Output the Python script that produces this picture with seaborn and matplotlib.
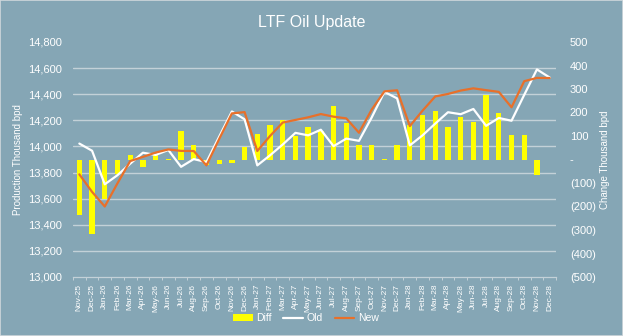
import matplotlib
matplotlib.use("Agg")
import matplotlib.pyplot as plt
import seaborn as sns
import pandas as pd
from matplotlib.ticker import FuncFormatter, FixedLocator
from matplotlib.patches import Patch, Rectangle
from matplotlib.lines import Line2D

months = ["Nov-25", "Dec-25", "Jan-26", "Feb-26", "Mar-26", "Apr-26", "May-26", "Jun-26",
          "Jul-26", "Aug-26", "Sep-26", "Oct-26", "Nov-26", "Dec-26", "Jan-27", "Feb-27",
          "Mar-27", "Apr-27", "May-27", "Jun-27", "Jul-27", "Aug-27", "Sep-27", "Oct-27",
          "Nov-27", "Dec-27", "Jan-28", "Feb-28", "Mar-28", "Apr-28", "May-28", "Jun-28",
          "Jul-28", "Aug-28", "Sep-28", "Oct-28", "Nov-28", "Dec-28"]
old = [14022, 13967, 13710, 13780, 13868, 13952, 13935, 13973, 13844, 13903, 13880, 14075,
       14268, 14208, 13855, 13932, 14015, 14104, 14085, 14128, 14002, 14060, 14043, 14222,
       14418, 14368, 14008, 14085, 14175, 14262, 14247, 14287, 14158, 14218, 14197, 14395,
       14590, 14528]
new = [13786, 13652, 13540, 13718, 13888, 13920, 13953, 13977, 13966, 13965, 13855, 14057,
       14253, 14263, 13965, 14080, 14183, 14203, 14223, 14248, 14228, 14215, 14105, 14282,
       14422, 14430, 14156, 14274, 14383, 14402, 14428, 14445, 14431, 14418, 14300, 14500,
       14525, 14524]
diff = [-236, -315, -170, -62, 20, -32, 18, 4, 122, 62, -25, -18, -15, 55, 110, 148, 168,
        99, 138, 120, 226, 155, 62, 60, 4, 62, 148, 189, 208, 140, 181, 158, 273, 200, 103,
        105, -65, -4]
left_ticks = [13000, 13200, 13400, 13600, 13800, 14000, 14200, 14400, 14600, 14800]
right_ticks = [-500, -400, -300, -200, -100, 0, 100, 200, 300, 400, 500]

BG = "#85A6B5"
GRID = "#C3D1D8"
TXT = "#FFFFFF"
YEL = "#FFFF00"
ORG = "#E8702A"

sns.set_theme(style="white")
plt.rcParams["font.family"] = ["Liberation Sans", "DejaVu Sans"]

df = pd.DataFrame({"idx": list(range(len(months))), "month": months,
                   "old": old, "new": new, "diff": diff})

fig = plt.figure(figsize=(6.23, 3.36), dpi=100, facecolor=BG)
ax = fig.add_axes([73 / 623, 1 - 277 / 336, 483 / 623, 235 / 336])
ax2 = ax.twinx()
ax.set_zorder(ax2.get_zorder() + 1)
ax.patch.set_visible(False)
ax2.patch.set_visible(False)

# bars on right axis
sns.barplot(data=df, x="idx", y="diff", color=YEL, width=0.42, native_scale=True,
            saturation=1, ax=ax2, zorder=2, edgecolor="none", linewidth=0)
# lines on left axis
sns.lineplot(data=df, x="idx", y="old", color="white", linewidth=1.6, ax=ax, zorder=3)
sns.lineplot(data=df, x="idx", y="new", color=ORG, linewidth=1.6, ax=ax, zorder=4)

ax.set_ylim(13000, 14800)
ax2.set_ylim(-500, 500)
ax.set_xlim(-0.5, len(months) - 0.5)

# left axis ticks
ax.yaxis.set_major_locator(FixedLocator(left_ticks))
ax.yaxis.set_major_formatter(FuncFormatter(lambda v, p: f"{v:,.0f}"))
ax.tick_params(axis="y", length=0, pad=8, labelsize=8, labelcolor=TXT)

# right axis ticks
ax2.yaxis.set_major_locator(FixedLocator(right_ticks))
def rfmt(v, p):
    if abs(v) < 1e-9:
        return "-"
    if v < 0:
        return f"({abs(v):,.0f})"
    return f"{v:,.0f}"
ax2.yaxis.set_major_formatter(FuncFormatter(rfmt))
ax2.tick_params(axis="y", length=0, pad=10, labelsize=8, labelcolor=TXT)

# gridlines (left-axis positions) drawn on bar axis so bars sit above them
ymin, ymax = ax.get_ylim()
rmin, rmax = ax2.get_ylim()
grid_pos = [rmin + (t - ymin) / (ymax - ymin) * (rmax - rmin) for t in left_ticks]
ax2.yaxis.set_minor_locator(FixedLocator(grid_pos))
ax2.tick_params(axis="y", which="minor", length=0)
ax2.grid(False)
ax2.grid(True, which="minor", axis="y", color=GRID, linewidth=1.0, zorder=0)
ax2.set_axisbelow(True)
ax.grid(False)

# x axis
ax.xaxis.set_major_locator(FixedLocator(list(range(len(months)))))
ax.set_xticklabels(months)
ax.xaxis.set_minor_locator(FixedLocator([i - 0.5 for i in range(len(months) + 1)]))
ax.tick_params(axis="x", which="major", length=0, pad=5, labelsize=6, labelcolor=TXT,
               labelrotation=90)
ax.tick_params(axis="x", which="minor", length=2.5, width=0.7, color=GRID, bottom=True)

for a in (ax, ax2):
    for s in a.spines.values():
        s.set_visible(False)
ax.spines["bottom"].set_visible(True)
ax.spines["bottom"].set_color(GRID)
ax.spines["bottom"].set_linewidth(0.9)

ax.set_xlabel("")
ax.set_ylabel("Production Thousand bpd", color=TXT, fontsize=7)
ax2.set_ylabel("Change Thousand bpd", color=TXT, fontsize=7)
ax.yaxis.set_label_coords((23 - 73) / 483, 0.5)
ax2.yaxis.set_label_coords((600 - 73) / 483, 0.5)

fig.text(0.5, 1 - 22 / 336, "LTF Oil Update", ha="center", va="center",
         color=TXT, fontsize=11.5)

handles = [Patch(facecolor=YEL, edgecolor="none"),
           Line2D([], [], color="white", linewidth=1.6),
           Line2D([], [], color=ORG, linewidth=1.6)]
leg = fig.legend(handles, ["Diff", "Old", "New"], loc="center",
                 bbox_to_anchor=(306 / 623, 1 - 318 / 336), ncol=3, frameon=False,
                 fontsize=7.5, handlelength=1.9, handleheight=0.6, handletextpad=0.35,
                 columnspacing=1.1, labelcolor=TXT)

fig.patches.append(Rectangle((0, 0), 1, 1, transform=fig.transFigure, fill=False,
                             edgecolor="#D0D8DC", linewidth=1.2))

fig.savefig("out.png", dpi=100, facecolor=BG)
